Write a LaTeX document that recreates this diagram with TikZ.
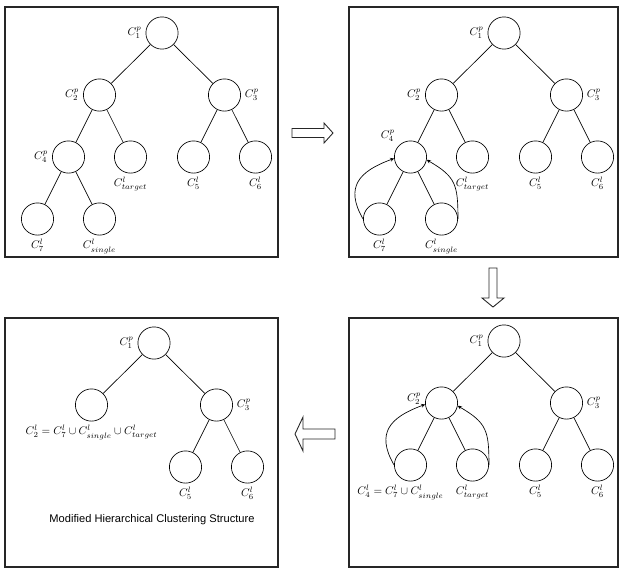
\documentclass[tikz,border=0pt]{standalone}
\usepackage{fontspec}
\setsansfont{Liberation Sans}
\usepackage{tikz}
\tikzstyle{vertex}=[draw,fill=white,circle,minimum size=29pt,inner sep=0pt]
\tikzstyle{panel}=[draw,line width=1.3pt,black!85]
\tikzstyle{merge}=[->,>=stealth,line width=0.6pt]
\tikzstyle{blockarrow}=[draw,line width=0.8pt,black!85]

\begin{document}
\begin{tikzpicture}[x=0.9pt,y=-0.9pt,line width=0.6pt,level distance=55.8pt,
  level 1/.style={sibling distance=112.5pt},
  level 2/.style={sibling distance=55.8pt},
  level 3/.style={sibling distance=55.8pt}]
  \useasboundingbox (0,0) rectangle (619,568);

  % initial hierarchy
  \draw[panel] (5,7) rectangle (278,257);
  \node[vertex,label=left:$C^p_1$] (a1) at (162,33) {}
  child {
    node[vertex,label=left:$C^p_2$] (a2) {}
    child {
      node[vertex,label=left:$C^p_4$] (a4) {}
      child { node[vertex,label=below:$C^l_7$] (a7) {} }
      child { node[vertex,label={below:$C^l_{single}$}] (as) {} }
    }
    child {
      node[vertex,label={below:$C^l_{target}$}] (at) {}
    }
  } child {
    node[vertex,label=right:$C^p_3$] (a3) {}
    child { node[vertex,label=below:$C^l_5$] (a5) {} }
    child { node[vertex,label=below:$C^l_6$] (a6) {} }
  };

  % first merge into C4
  \draw[panel] (349,7) rectangle (618,257);
  \node[vertex,label=left:$C^p_1$] (b1) at (504,33) {}
  child {
    node[vertex,label=left:$C^p_2$] (b2) {}
    child {
      node[vertex,label=above left:$C^p_4$] (b4) {}
      child { node[vertex,label=below:$C^l_7$] (b7) {} }
      child { node[vertex,label={below:$C^l_{single}$}] (bs) {} }
    }
    child {
      node[vertex,label={below:$C^l_{target}$}] (bt) {}
    }
  } child {
    node[vertex,label=right:$C^p_3$] (b3) {}
    child { node[vertex,label=below:$C^l_5$] (b5) {} }
    child { node[vertex,label=below:$C^l_6$] (b6) {} }
  };
  \draw[merge] (b7.west) to[out=120,in=200,looseness=1.4] (b4.185);
  \draw[merge] (bs.east) to[out=90,in=-30,looseness=1.3] (b4.-10);

  % second merge into C2
  \draw[panel] (349,318) rectangle (618,567);
  \node[vertex,label=left:$C^p_1$] (d1) at (504,341) {}
  child {
    node[vertex,label={[yshift=4pt]left:$C^p_2$}] (d2) {}
    child {
      node[vertex,label={[xshift=-9pt]below:$C^l_4=C^l_7\cup C^l_{single}$}] (d4) {}
    }
    child {
      node[vertex,label={below:$C^l_{target}$}] (dt) {}
    }
  } child {
    node[vertex,label=right:$C^p_3$] (d3) {}
    child { node[vertex,label=below:$C^l_5$] (d5) {} }
    child { node[vertex,label=below:$C^l_6$] (d6) {} }
  };
  \draw[merge] (d4.west) to[out=120,in=200,looseness=1.4] (d2.185);
  \draw[merge] (dt.east) to[out=90,in=-30,looseness=1.3] (d2.-10);

  % resulting structure
  \draw[panel] (5,318) rectangle (278,567);
  \node[vertex,label=left:$C^p_1$] (c1) at (154,343) {}
  child {
    node[vertex,label={below:$C^l_2=C^l_7\cup C^l_{single}\cup C^l_{target}$}] (c2) {}
  } child {
    node[vertex,label=right:$C^p_3$] (c3) {}
    child { node[vertex,label=below:$C^l_5$] (c5) {} }
    child { node[vertex,label=below:$C^l_6$] (c6) {} }
  };
  \node[font=\sffamily] (title) at (152,520) {Modified Hierarchical Clustering Structure};

  % steps between the panels
  \draw[blockarrow] (292,128.5) -- (324,128.5) -- (324,123) -- (333,133)
    -- (324,143) -- (324,137.5) -- (292,137.5) -- cycle;
  \draw[blockarrow] (489,268) -- (497,268) -- (497,298) -- (504,298)
    -- (493,307) -- (482,298) -- (489,298) -- cycle;
  \draw[blockarrow] (335,429) -- (303,429) -- (303,417) -- (295,434)
    -- (303,451) -- (303,439) -- (335,439) -- cycle;
\end{tikzpicture}
\end{document}
